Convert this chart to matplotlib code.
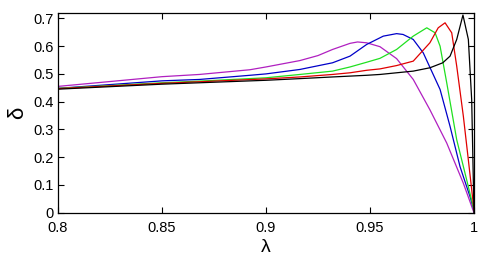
import numpy as np
import matplotlib.pyplot as plt

plt.rcParams['font.family'] = ['Liberation Sans', 'DejaVu Sans']

# curve data (lambda, delta)
x_m = [0.8, 0.85, 0.868, 0.8923, 0.9, 0.9163, 0.925, 0.932, 0.9404, 0.944, 0.9484, 0.9548,
       0.9628, 0.9708, 0.9788, 0.9869, 0.9949, 1.0]
y_m = [0.455, 0.49, 0.498, 0.515, 0.525, 0.548, 0.566, 0.588, 0.610, 0.615, 0.612, 0.598,
       0.555, 0.48, 0.371, 0.251, 0.106, 0.0]

x_b = [0.8, 0.85, 0.868, 0.8923, 0.9, 0.9163, 0.932, 0.9404, 0.9484, 0.9564, 0.9628,
       0.9659, 0.9708, 0.9756, 0.9837, 0.9885, 0.9933, 0.9981, 1.0]
y_b = [0.448, 0.475, 0.48, 0.495, 0.5, 0.516, 0.540, 0.564, 0.606, 0.636, 0.645,
       0.642, 0.624, 0.576, 0.444, 0.311, 0.166, 0.058, 0.01]

x_g = [0.8, 0.85, 0.868, 0.9, 0.9163, 0.932, 0.9404, 0.9484, 0.9548, 0.9628, 0.9708,
       0.9773, 0.9813, 0.9837, 0.9869, 0.9917, 0.9965, 1.0]
y_g = [0.448, 0.468, 0.474, 0.486, 0.498, 0.51, 0.525, 0.542, 0.556, 0.588, 0.636,
       0.666, 0.648, 0.6, 0.468, 0.263, 0.118, 0.01]

x_r = [0.8, 0.85, 0.9, 0.9163, 0.932, 0.9404, 0.9484, 0.9548, 0.9628, 0.9708, 0.9788,
       0.9828, 0.9861, 0.9893, 0.9917, 0.9949, 0.9973, 1.0]
y_r = [0.447, 0.466, 0.482, 0.489, 0.498, 0.504, 0.513, 0.518, 0.53, 0.546, 0.612,
       0.666, 0.684, 0.648, 0.528, 0.347, 0.19, 0.01]

x_k = [0.8, 0.85, 0.9, 0.9163, 0.932, 0.9484, 0.9548, 0.9708, 0.9788, 0.985, 0.9885,
       0.9917, 0.9947, 0.9973, 0.9989, 1.0]
y_k = [0.445, 0.463, 0.477, 0.483, 0.489, 0.495, 0.498, 0.51, 0.522, 0.54, 0.564,
       0.624, 0.712, 0.624, 0.407, 0.0]

xticks = [0.8, 0.85, 0.9, 0.95, 1.0]
xticklabels = ['0.8', '0.85', '0.9', '0.95', '1']
yticks = [0, 0.1, 0.2, 0.3, 0.4, 0.5, 0.6, 0.7]
yticklabels = ['0', '0.1', '0.2', '0.3', '0.4', '0.5', '0.6', '0.7']

fig = plt.figure(figsize=(5.03, 2.62), dpi=100)
ax = fig.add_axes([0.1153, 0.188, 0.827, 0.761])

lw = 0.9
ax.plot(x_m, y_m, color='#b020c0', lw=lw)
ax.plot(x_b, y_b, color='#0000c8', lw=lw)
ax.plot(x_g, y_g, color='#20e020', lw=lw)
ax.plot(x_r, y_r, color='#e00000', lw=lw)
ax.plot(x_k, y_k, color='black', lw=lw)

ax.set_xlim(0.8, 1.0)
ax.set_ylim(0, 0.718)
ax.set_xticks(xticks)
ax.set_xticklabels(xticklabels)
ax.set_yticks(yticks)
ax.set_yticklabels(yticklabels)
ax.tick_params(direction='in', top=True, right=True, length=4, width=0.8,
               labelsize=10.5)
ax.tick_params(axis='x', pad=6)
ax.tick_params(axis='y', pad=3)
for s in ax.spines.values():
    s.set_linewidth(0.9)

ax.set_xlabel('λ', fontsize=14, labelpad=3)
ax.set_ylabel('δ', fontsize=16, labelpad=4)

fig.savefig('out.png', dpi=100)
